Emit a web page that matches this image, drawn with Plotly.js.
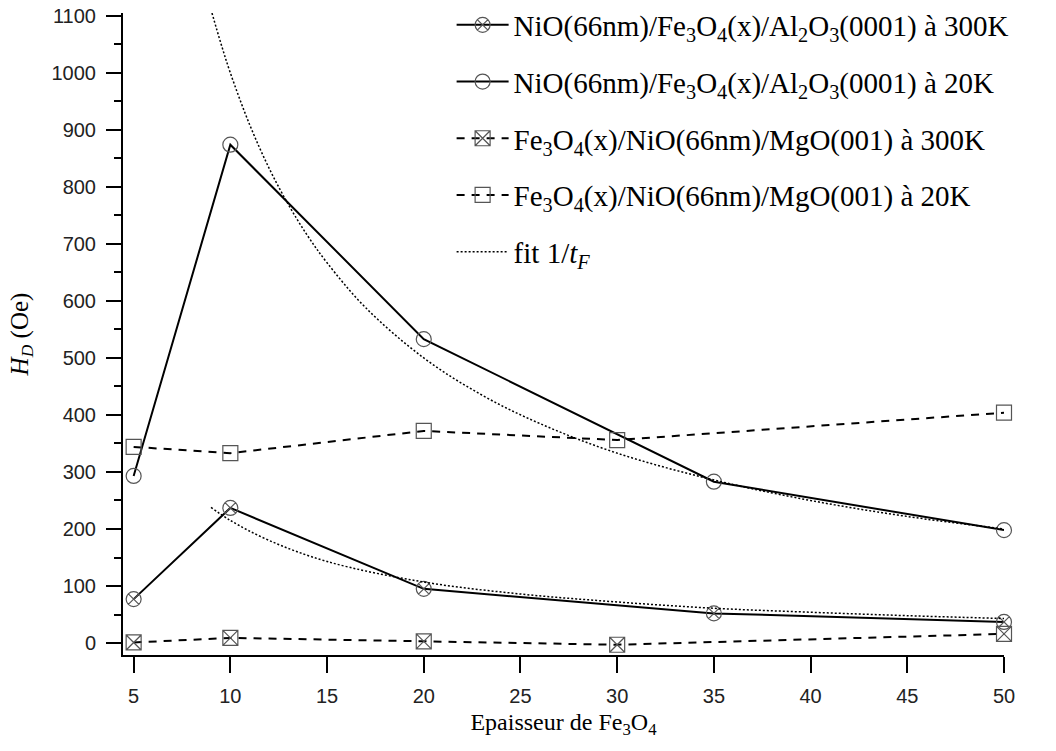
<!DOCTYPE html>
<html>
<head>
<meta charset="utf-8">
<script src="https://cdn.plot.ly/plotly-3.0.1.min.js"></script>
<style>html,body{margin:0;padding:0;background:#fff;}#chart{width:1056px;height:751px;}</style>
</head>
<body>
<div id="chart"></div>
<script>
// Thickness of Fe3O4 (nm)
const xNiOAl = [5, 10, 20, 35, 50];
const hdNiOAl300K = [77, 237, 95, 52, 37];
const hdNiOAl20K = [293, 874, 533, 283, 198];

const xFeMgO = [5, 10, 20, 30, 50];
const hdFeMgO300K = [1, 9, 3, -3, 16];
const hdFeMgO20K = [344, 333, 372, 356, 404];

// 1/tF fits
const xFitHigh = [9.05, 9.5, 10, 11, 12, 13, 14, 15, 17, 20, 23, 26, 30, 35, 40, 45, 50];
const hdFitHigh = [1105, 1053, 1000, 909, 833, 769, 714, 667, 588, 500, 435, 385, 333, 286, 250, 222, 200];
const xFitLow = [9, 10, 12, 15, 20, 25, 30, 35, 40, 45, 50];
const hdFitLow = [238, 215, 180, 143, 107, 86, 72, 61, 54, 48, 43];

const names = [
  'NiO(66nm)/Fe<sub>3</sub>O<sub>4</sub>(x)/Al<sub>2</sub>O<sub>3</sub>(0001) à 300K',
  'NiO(66nm)/Fe<sub>3</sub>O<sub>4</sub>(x)/Al<sub>2</sub>O<sub>3</sub>(0001) à 20K',
  'Fe<sub>3</sub>O<sub>4</sub>(x)/NiO(66nm)/MgO(001) à 300K',
  'Fe<sub>3</sub>O<sub>4</sub>(x)/NiO(66nm)/MgO(001) à 20K',
  'fit 1/<i>t</i><sub><i>F</i></sub>'
];
const xTicks = [5, 10, 15, 20, 25, 30, 35, 40, 45, 50];
const yTicks = [0, 100, 200, 300, 400, 500, 600, 700, 800, 900, 1000, 1100];

const mk = (sym) => ({symbol: sym, size: 15, color: '#555', line: {color: '#555', width: 1.2}});
const traces = [
  {x: xNiOAl, y: hdNiOAl300K, name: names[0], mode: 'lines+markers', legendgroup: 'a',
   line: {color: '#000', width: 2}, marker: mk('circle-x-open'), cliponaxis: false},
  {x: xNiOAl, y: hdNiOAl20K, name: names[1], mode: 'lines+markers', legendgroup: 'b',
   line: {color: '#000', width: 2}, marker: mk('circle-open'), cliponaxis: false},
  {x: xFeMgO, y: hdFeMgO300K, name: names[2], mode: 'lines+markers', legendgroup: 'c',
   line: {color: '#000', width: 2, dash: '8px,7px'}, marker: mk('square-x-open'), cliponaxis: false},
  {x: xFeMgO, y: hdFeMgO20K, name: names[3], mode: 'lines+markers', legendgroup: 'd',
   line: {color: '#000', width: 2, dash: '8px,7px'}, marker: mk('square-open'), cliponaxis: false},
  {x: xFitHigh, y: hdFitHigh, name: names[4], mode: 'lines', legendgroup: 'e',
   line: {color: '#000', width: 1.5, dash: '2px,2px', shape: 'spline'}},
  {x: xFitLow, y: hdFitLow, name: names[4], mode: 'lines', legendgroup: 'e', showlegend: false,
   line: {color: '#000', width: 1.5, dash: '2px,2px', shape: 'spline'}}
];

const tickFont = {family: 'Liberation Sans, Arial, sans-serif', size: 20, color: '#222'};
const serif = '"Liberation Serif", "Times New Roman", serif';

const layout = {
  width: 1056, height: 751,
  margin: {l: 123, r: 52, t: 13, b: 96, autoexpand: false},
  paper_bgcolor: '#fff', plot_bgcolor: '#fff',
  showlegend: true,
  legend: {
    x: 0.373, y: 1.021, xanchor: 'left', yanchor: 'top',
    font: {family: serif, size: 29, color: '#000'},
    bgcolor: 'rgba(0,0,0,0)', tracegroupgap: 16, itemwidth: 52
  },
  xaxis: {
    range: [4.45, 50], tickvals: xTicks, ticktext: xTicks.map(String),
    showline: true, linecolor: '#000', linewidth: 2, mirror: false,
    ticks: 'outside', ticklen: 16, tickwidth: 2, tickcolor: '#000',
    showgrid: false, zeroline: false, tickfont: tickFont, ticklabelstandoff: 6,
    title: {text: 'Epaisseur de Fe<sub>3</sub>O<sub>4</sub>', font: {family: serif, size: 24, color: '#000'}, standoff: 7}
  },
  yaxis: {
    range: [-21, 1105], tickvals: yTicks, ticktext: yTicks.map(String),
    showline: true, linecolor: '#000', linewidth: 2, mirror: false,
    ticks: 'outside', ticklen: 15, tickwidth: 2, tickcolor: '#000',
    minor: {dtick: 50, tick0: 0, ticks: 'outside', ticklen: 7, tickwidth: 2, tickcolor: '#000', showgrid: false},
    showgrid: false, zeroline: false, tickfont: tickFont, ticklabelstandoff: 6,
    title: {text: '<i>H</i><sub><i>D</i></sub> (Oe)', font: {family: serif, size: 25, color: '#000'}, standoff: 16}
  }
};

Plotly.newPlot('chart', traces, layout, {displayModeBar: false, staticPlot: true});
</script>
</body>
</html>
